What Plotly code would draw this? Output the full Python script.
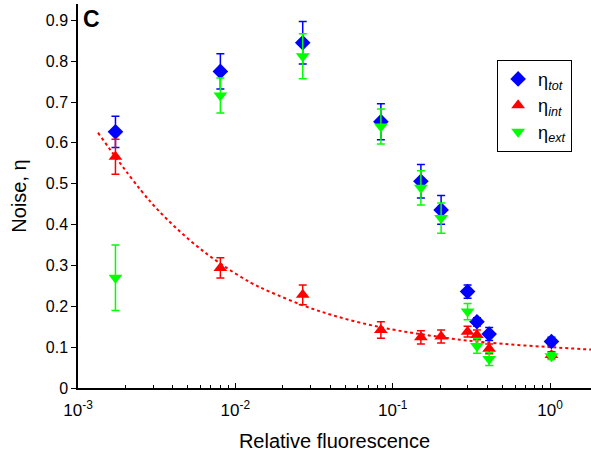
import plotly.graph_objects as go

# Data
x_vals = [0.00173, 0.00803, 0.0268, 0.0841, 0.151, 0.203, 0.299, 0.343, 0.410, 1.02]

tot_y = [0.627, 0.775, 0.845, 0.652, 0.506, 0.436, 0.236, 0.162, 0.132, 0.114]
tot_err = [0.038, 0.043, 0.052, 0.044, 0.041, 0.035, 0.016, 0.010, 0.016, 0.010]

int_y = [0.566, 0.294, 0.228, 0.142, 0.124, 0.126, 0.138, 0.130, 0.096, 0.081]
int_err = [0.043, 0.025, 0.024, 0.020, 0.016, 0.016, 0.013, 0.012, 0.012, 0.008]

ext_y = [0.270, 0.716, 0.812, 0.640, 0.490, 0.416, 0.187, 0.103, 0.071, 0.078]
ext_err = [0.080, 0.043, 0.055, 0.043, 0.042, 0.037, 0.020, 0.018, 0.016, 0.008]

# Dotted fit curve
fit_x = [0.00134, 0.0029, 0.0052, 0.008, 0.0125, 0.0167, 0.027, 0.04, 0.062,
         0.1, 0.15, 0.27, 0.5, 1.0, 1.82]
fit_y = [0.625, 0.455, 0.36, 0.305, 0.258, 0.235, 0.202, 0.18, 0.16,
         0.143, 0.132, 0.118, 0.108, 0.1, 0.094]

x_tickvals = [0.001, 0.01, 0.1, 1]
x_ticktext = ["10<sup>-3</sup>", "10<sup>-2</sup>", "10<sup>-1</sup>", "10<sup>0</sup>"]
y_tickvals = [0, 0.1, 0.2, 0.3, 0.4, 0.5, 0.6, 0.7, 0.8, 0.9]
y_ticktext = ["0", "0.1", "0.2", "0.3", "0.4", "0.5", "0.6", "0.7", "0.8", "0.9"]

FONT = "Liberation Sans, Arial, Helvetica, sans-serif"

fig = go.Figure()

fig.add_trace(go.Scatter(
    x=fit_x, y=fit_y, mode="lines", line=dict(color="#ff0000", width=2, dash="dot", shape="spline"),
    showlegend=False, hoverinfo="skip"))

fig.add_trace(go.Scatter(
    x=x_vals, y=tot_y, mode="markers", name="η<sub><i>tot</i></sub>",
    marker=dict(symbol="diamond", size=12, color="#0000ff"),
    error_y=dict(type="data", array=tot_err, color="#0000ff", thickness=1.5, width=4)))

fig.add_trace(go.Scatter(
    x=x_vals, y=int_y, mode="markers", name="η<sub><i>int</i></sub>",
    marker=dict(symbol="triangle-up", size=12, color="#ff0000"),
    error_y=dict(type="data", array=int_err, color="#ff0000", thickness=1.5, width=4)))

fig.add_trace(go.Scatter(
    x=x_vals, y=ext_y, mode="markers", name="η<sub><i>ext</i></sub>",
    marker=dict(symbol="triangle-down", size=12, color="#00ff00"),
    error_y=dict(type="data", array=ext_err, color="#00ff00", thickness=1.5, width=4)))

fig.update_layout(
    width=591, height=462,
    margin=dict(l=78, r=0, t=4, b=74),
    paper_bgcolor="white", plot_bgcolor="white",
    font=dict(family=FONT, size=16, color="black"),
    showlegend=True,
    legend=dict(x=0.817, y=0.855, xanchor="left", yanchor="top",
                bordercolor="black", borderwidth=1, bgcolor="white",
                font=dict(size=18), itemsizing="constant", tracegroupgap=0,
                itemwidth=30),
    annotations=[dict(text="<b>C</b>", x=0.005, y=1.0, xref="paper", yref="paper",
                      xanchor="left", yanchor="top", showarrow=False,
                      font=dict(size=23, family=FONT, color="black"))],
)

fig.update_xaxes(
    type="log", range=[-3, 0.26],
    showline=True, linecolor="black", linewidth=1.5,
    showgrid=False, zeroline=False,
    ticks="inside", ticklen=5, tickcolor="black", tickwidth=1,
    tickvals=x_tickvals, ticktext=x_ticktext,
    tickfont=dict(size=17), ticklabelstandoff=6,
    minor=dict(ticks="inside", ticklen=3, tickcolor="black", dtick="D1", showgrid=False),
    title=dict(text="Relative fluorescence", font=dict(size=20), standoff=15),
)

fig.update_yaxes(
    range=[0, 0.94],
    showline=True, linecolor="black", linewidth=1.5,
    showgrid=False, zeroline=False,
    ticks="outside", ticklen=5, tickcolor="black", tickwidth=1,
    tickvals=y_tickvals, ticktext=y_ticktext,
    tickfont=dict(size=16),
    title=dict(text="Noise, η", font=dict(size=20), standoff=14),
)

fig.write_html("out.html", config={"displayModeBar": False},
               post_script="document.body.style.margin='0';")
